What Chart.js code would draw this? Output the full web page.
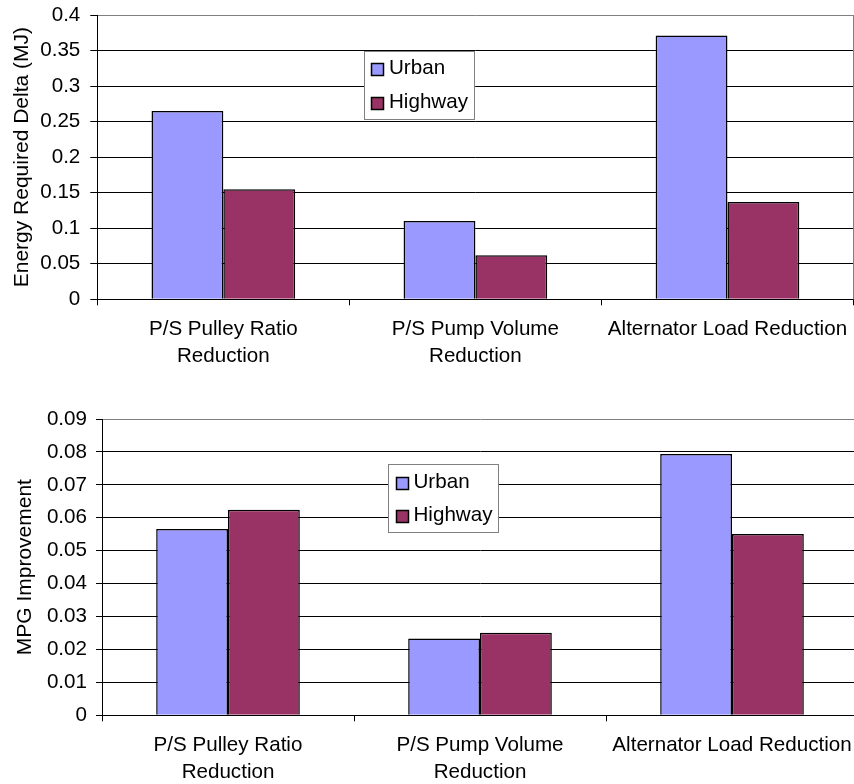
<!DOCTYPE html>
<html>
<head>
<meta charset="utf-8">
<script src="https://cdn.jsdelivr.net/npm/chart.js@4/dist/chart.umd.min.js"></script>
<style>
  html, body { margin: 0; padding: 0; background: #fff; overflow: hidden; }
  #wrap { position: relative; width: 854px; height: 784px; overflow: hidden; }
  #energy { position: absolute; left: 0; top: 0; }
  #mpg { position: absolute; left: 0; top: 392px; }
</style>
</head>
<body>
<div id="wrap">
  <canvas id="energy" width="854" height="392"></canvas>
  <canvas id="mpg" width="858" height="392"></canvas>
</div>
<script>
// Accessory-load measures and their effect per drive cycle
const categories = [
  ['P/S Pulley Ratio', 'Reduction'],
  ['P/S Pump Volume', 'Reduction'],
  'Alternator Load Reduction'
];
const seriesNames = ['Urban', 'Highway'];
const seriesColors = ['#9999FF', '#993366'];

// Energy required delta (MJ)
const energyUrban   = [0.265, 0.110, 0.371];
const energyHighway = [0.155, 0.062, 0.137];
const energyTicks   = [0, 0.05, 0.1, 0.15, 0.2, 0.25, 0.3, 0.35, 0.4];

// MPG improvement
const mpgUrban   = [0.0566, 0.0233, 0.0794];
const mpgHighway = [0.0624, 0.0251, 0.0551];
const mpgTicks   = [0, 0.01, 0.02, 0.03, 0.04, 0.05, 0.06, 0.07, 0.08, 0.09];

const FONT = "'Liberation Sans', Arial, Helvetica, sans-serif";
const FONT_SIZE = 20.6;

// Boxed legend placed inside the plot area
const boxLegend = {
  id: 'boxLegend',
  afterDraw(chart, args, o) {
    const ctx = chart.ctx;
    ctx.save();
    ctx.fillStyle = '#fff';
    ctx.fillRect(o.x, o.y, o.w, o.h);
    ctx.strokeStyle = '#808080';
    ctx.lineWidth = 1;
    ctx.strokeRect(o.x + 0.5, o.y + 0.5, o.w, o.h);
    ctx.font = FONT_SIZE + 'px ' + FONT;
    ctx.textBaseline = 'middle';
    ctx.textAlign = 'left';
    chart.data.datasets.forEach((ds, i) => {
      const sy = Math.round(o.y + o.first + i * o.step);
      const sx = o.x + o.sx;
      ctx.fillStyle = ds.backgroundColor;
      ctx.fillRect(sx, sy, 13, 13);
      ctx.strokeStyle = '#000';
      ctx.lineWidth = 1.5;
      ctx.strokeRect(sx + 0.5, sy + 0.5, 12, 12);
      ctx.fillStyle = '#000';
      ctx.fillText(ds.label, o.x + o.tx, sy + 5.5);
    });
    ctx.restore();
  }
};

// Grey plot-area edge on the right side
const rightEdge = {
  id: 'rightEdge',
  beforeDatasetsDraw(chart, args, o) {
    if (!o.show) return;
    const a = chart.chartArea;
    const ctx = chart.ctx;
    ctx.save();
    ctx.strokeStyle = '#808080';
    ctx.lineWidth = 1;
    const x = Math.round(a.right) - 0.5;
    ctx.beginPath();
    ctx.moveTo(x, a.top);
    ctx.lineTo(x, a.bottom);
    ctx.stroke();
    ctx.restore();
  }
};

function makeChart(id, urban, highway, ticks, cfg) {
  const maxVal = ticks[ticks.length - 1];
  return new Chart(document.getElementById(id), {
    type: 'bar',
    data: {
      labels: categories,
      datasets: [
        { label: seriesNames[0], data: urban, backgroundColor: seriesColors[0] },
        { label: seriesNames[1], data: highway, backgroundColor: seriesColors[1] }
      ]
    },
    options: {
      responsive: false,
      animation: false,
      devicePixelRatio: 1,
      layout: { padding: { top: cfg.padTop, right: cfg.padRight, left: 0, bottom: 0 } },
      datasets: {
        bar: {
          categoryPercentage: 0.57,
          barPercentage: 1,
          borderColor: '#000',
          borderWidth: 1.5,
          borderSkipped: 'start'
        }
      },
      plugins: {
        legend: { display: false },
        tooltip: { enabled: false },
        boxLegend: cfg.legend,
        rightEdge: { show: cfg.rightEdge }
      },
      scales: {
        x: {
          grid: {
            display: true,
            drawOnChartArea: false,
            drawTicks: true,
            tickLength: 6,
            color: '#000',
            offset: true
          },
          border: { display: true, color: '#000', width: 1 },
          ticks: {
            color: '#000',
            padding: 10,
            maxRotation: 0,
            autoSkip: false,
            font: { family: FONT, size: FONT_SIZE, lineHeight: 1.33 }
          },
          afterFit(scale) {
            scale.height = cfg.xHeight;
            scale.paddingLeft = 0;
            scale.paddingRight = 0;
          }
        },
        y: {
          min: 0,
          max: maxVal,
          afterBuildTicks(scale) { scale.ticks = ticks.map(v => ({ value: v })); },
          grid: {
            color: c => (c.tick && c.tick.value === maxVal) ? '#808080' : '#000',
            tickColor: '#000',
            tickLength: cfg.yTick,
            lineWidth: 1
          },
          border: { display: true, color: '#000', width: 1 },
          ticks: {
            color: '#000',
            padding: cfg.yPad,
            font: { family: FONT, size: FONT_SIZE },
            callback: v => String(v)
          },
          title: {
            display: true,
            text: cfg.yTitle,
            color: '#000',
            font: { family: FONT, size: 21 },
            padding: { top: cfg.titlePad, bottom: 0 }
          },
          afterFit(scale) {
            scale.width = cfg.yWidth;
            scale.paddingTop = 0;
            scale.paddingBottom = 0;
          }
        }
      }
    },
    plugins: [rightEdge, boxLegend]
  });
}

makeChart('energy', energyUrban, energyHighway, energyTicks, {
  padTop: 15, padRight: 0.5, xHeight: 92.7,
  yWidth: 97.3, yTick: 7, yPad: 10, titlePad: 9.5,
  yTitle: 'Energy Required Delta (MJ)',
  rightEdge: true,
  legend: { x: 364, y: 51, w: 110, h: 68, sx: 7, first: 12, step: 33.5, tx: 25 }
});

makeChart('mpg', mpgUrban, mpgHighway, mpgTicks, {
  padTop: 27, padRight: 0, xHeight: 68.7,
  yWidth: 102, yTick: 6, yPad: 9, titlePad: 12.5,
  yTitle: 'MPG Improvement',
  rightEdge: false,
  legend: { x: 388, y: 72, w: 110, h: 68, sx: 8, first: 12.5, step: 33.4, tx: 25.5 }
});
</script>
</body>
</html>
